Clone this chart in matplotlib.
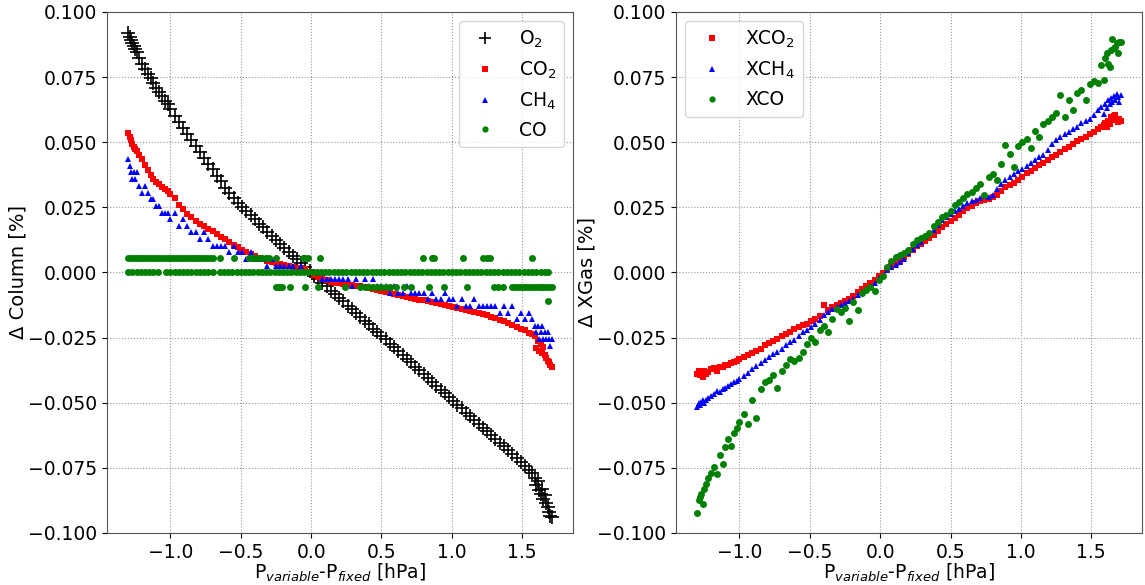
import matplotlib
matplotlib.use("Agg")
import matplotlib.pyplot as plt

# ---------------- data ----------------
# shared pressure-difference axis [hPa]
P_DIFF = [-1.30, -1.29, -1.28, -1.27, -1.26, -1.25, -1.24, -1.22, -1.20, -1.18,
          -1.16, -1.14, -1.12, -1.10, -1.08, -1.06, -1.04, -1.02, -1.00, -0.97,
          -0.94, -0.91, -0.88, -0.85, -0.82, -0.79, -0.76, -0.73, -0.70, -0.67,
          -0.64, -0.61, -0.58, -0.55, -0.52, -0.49, -0.46, -0.43, -0.40, -0.37,
          -0.34, -0.31, -0.28, -0.25, -0.22, -0.19, -0.16, -0.13, -0.10, -0.07,
          -0.04, -0.01, 0.02, 0.05, 0.08, 0.11, 0.14, 0.17, 0.20, 0.23,
          0.26, 0.29, 0.32, 0.35, 0.38, 0.41, 0.44, 0.47, 0.50, 0.53,
          0.56, 0.59, 0.62, 0.65, 0.68, 0.71, 0.74, 0.77, 0.80, 0.83,
          0.86, 0.89, 0.92, 0.95, 0.98, 1.01, 1.04, 1.07, 1.10, 1.13,
          1.16, 1.19, 1.22, 1.25, 1.28, 1.31, 1.34, 1.37, 1.40, 1.43,
          1.46, 1.49, 1.52, 1.55, 1.57, 1.59, 1.60, 1.61, 1.62, 1.63,
          1.64, 1.65, 1.66, 1.67, 1.68, 1.69, 1.70, 1.71]

# left panel: Delta column [%]
O2 = [0.0918, 0.0905, 0.0893, 0.0880, 0.0870, 0.0857, 0.0848, 0.0825, 0.0800, 0.0782,
      0.0762, 0.0745, 0.0726, 0.0710, 0.0692, 0.0677, 0.0660, 0.0645, 0.0628, 0.0602,
      0.0578, 0.0553, 0.0530, 0.0507, 0.0486, 0.0463, 0.0441, 0.0418, 0.0397, 0.0372,
      0.0350, 0.0326, 0.0304, 0.0286, 0.0268, 0.0252, 0.0235, 0.0220, 0.0205, 0.0188,
      0.0173, 0.0157, 0.0141, 0.0125, 0.0110, 0.0095, 0.0080, 0.0065, 0.0050, 0.0035,
      0.0020, 0.0005, -0.0012, -0.0024, -0.0041, -0.0053, -0.0070, -0.0082, -0.0099, -0.0111,
      -0.0128, -0.0141, -0.0156, -0.0169, -0.0186, -0.0198, -0.0215, -0.0228, -0.0245, -0.0257,
      -0.0274, -0.0287, -0.0302, -0.0316, -0.0333, -0.0345, -0.0361, -0.0375, -0.0391, -0.0404,
      -0.0420, -0.0434, -0.0450, -0.0463, -0.0479, -0.0493, -0.0509, -0.0522, -0.0538, -0.0551,
      -0.0567, -0.0581, -0.0596, -0.0609, -0.0625, -0.0638, -0.0653, -0.0667, -0.0682, -0.0696,
      -0.0712, -0.0727, -0.0743, -0.0758, -0.0770, -0.0790, -0.0815, -0.0800, -0.0835, -0.0850,
      -0.0830, -0.0870, -0.0855, -0.0885, -0.0900, -0.0918, -0.0935, -0.0940]

CO2 = [0.0536, 0.0522, 0.0508, 0.0494, 0.0482, 0.0474, 0.0467, 0.0452, 0.0436, 0.0414,
       0.0395, 0.0376, 0.0357, 0.0347, 0.0338, 0.0329, 0.0320, 0.0312, 0.0303, 0.0285,
       0.0260, 0.0242, 0.0226, 0.0212, 0.0198, 0.0187, 0.0177, 0.0167, 0.0158, 0.0148,
       0.0137, 0.0127, 0.0116, 0.0106, 0.0096, 0.0088, 0.0080, 0.0072, 0.0064, 0.0057,
       0.0051, 0.0045, 0.0040, 0.0036, 0.0033, 0.0030, 0.0026, 0.0023, 0.0019, 0.0016,
       0.0012, 0.0003, -0.0008, -0.0016, -0.0023, -0.0029, -0.0035, -0.0039, -0.0042, -0.0045,
       -0.0047, -0.0049, -0.0051, -0.0053, -0.0056, -0.0059, -0.0062, -0.0066, -0.0070, -0.0074,
       -0.0077, -0.0081, -0.0085, -0.0089, -0.0093, -0.0096, -0.0100, -0.0104, -0.0107, -0.0111,
       -0.0114, -0.0118, -0.0122, -0.0126, -0.0130, -0.0134, -0.0138, -0.0141, -0.0145, -0.0148,
       -0.0152, -0.0156, -0.0161, -0.0165, -0.0170, -0.0176, -0.0182, -0.0188, -0.0195, -0.0201,
       -0.0208, -0.0215, -0.0222, -0.0232, -0.0238, -0.0245, -0.0290, -0.0262, -0.0300, -0.0275,
       -0.0310, -0.0285, -0.0315, -0.0330, -0.0338, -0.0345, -0.0355, -0.0364]

CH4 = [0.0435, 0.0410, 0.0384, 0.0358, 0.0384, 0.0358, 0.0384, 0.0333, 0.0307, 0.0333,
       0.0307, 0.0282, 0.0282, 0.0256, 0.0256, 0.0230, 0.0230, 0.0230, 0.0205, 0.0230,
       0.0179, 0.0205, 0.0179, 0.0154, 0.0154, 0.0128, 0.0154, 0.0128, 0.0102, 0.0102,
       0.0102, 0.0102, 0.0077, 0.0102, 0.0077, 0.0077, 0.0051, 0.0077, 0.0051, 0.0051,
       0.0051, 0.0026, 0.0051, 0.0026, 0.0026, 0.0026, 0.0026, 0.0026, 0.0000, 0.0026,
       0.0000, 0.0000, 0.0000, 0.0000, -0.0026, -0.0026, -0.0026, -0.0026, -0.0026, -0.0026,
       -0.0026, -0.0051, -0.0026, -0.0051, -0.0026, -0.0051, -0.0026, -0.0051, -0.0051, -0.0051,
       -0.0077, -0.0051, -0.0077, -0.0077, -0.0051, -0.0077, -0.0077, -0.0077, -0.0077, -0.0102,
       -0.0077, -0.0102, -0.0102, -0.0077, -0.0102, -0.0102, -0.0128, -0.0102, -0.0128, -0.0128,
       -0.0102, -0.0128, -0.0128, -0.0128, -0.0128, -0.0128, -0.0154, -0.0128, -0.0154, -0.0128,
       -0.0179, -0.0154, -0.0179, -0.0154, -0.0179, -0.0205, -0.0230, -0.0205, -0.0256, -0.0230,
       -0.0205, -0.0256, -0.0230, -0.0256, -0.0230, -0.0256, -0.0282, -0.0256]

# CO column: discrete levels and where they occur
CO_HI = 0.0055
CO_ZERO = 0.0
CO_LO = -0.0054
CO_OUT = -0.011
CO_HI_X = [-1.30, -1.28, -1.26, -1.24, -1.22, -1.20, -1.18, -1.16, -1.14, -1.12,
           -1.10, -1.08, -1.06, -1.04, -1.02, -1.00, -0.98, -0.96, -0.94, -0.92,
           -0.90, -0.88, -0.86, -0.84, -0.82, -0.80, -0.78, -0.76, -0.74, -0.72,
           -0.70, -0.65, -0.545, -0.44, -0.42, -0.40, -0.38, -0.35, -0.32, -0.30,
           -0.25, -0.06, -0.04, -0.025, 0.06, 0.795, 0.857, 0.874, 1.08, 1.22,
           1.25, 1.27, 1.57]
CO_ZERO_X = [-1.30, -1.27, -1.24, -1.21, -1.18, -1.15, -1.12, -1.09, -1.03, -1.00,
             -0.97, -0.94, -0.91, -0.88, -0.85, -0.82, -0.79, -0.76, -0.73, -0.70,
             -0.65, -0.62, -0.59, -0.56, -0.53, -0.50, -0.47, -0.44, -0.41, -0.38,
             -0.35, -0.32, -0.29, -0.26, -0.23, -0.20, -0.17, -0.14, -0.11, -0.08,
             -0.05, -0.02, 0.01, 0.04, 0.07, 0.10, 0.13, 0.16, 0.19, 0.22,
             0.25, 0.28, 0.31, 0.34, 0.37, 0.40, 0.43, 0.46, 0.49, 0.52,
             0.55, 0.58, 0.61, 0.64, 0.67, 0.70, 0.73, 0.76, 0.79, 0.82,
             0.85, 0.88, 0.91, 0.94, 0.97, 1.00, 1.03, 1.06, 1.09, 1.12,
             1.15, 1.18, 1.21, 1.24, 1.27, 1.30, 1.33, 1.36, 1.39, 1.42,
             1.45, 1.48, 1.51, 1.54, 1.57, 1.60, 1.63, 1.66, 1.68]
CO_LO_X = [-0.25, -0.23, -0.21, -0.15, -0.04, 0.05, 0.24, 0.35, 0.38, 0.41,
           0.44, 0.47, 0.50, 0.53, 0.56, 0.60, 0.66, 0.71, 0.84, 0.945,
           1.11, 1.30, 1.33, 1.36, 1.43, 1.45, 1.47, 1.49, 1.51, 1.53,
           1.55, 1.57, 1.59, 1.61, 1.63, 1.65, 1.67, 1.69, 1.71]
CO_OUT_X = [1.68]

# right panel: Delta XGas [%]
XCO2 = [-0.0388, -0.0380, -0.0395, -0.0385, -0.0400, -0.0378, -0.0390, -0.0381, -0.0370, -0.0368,
        -0.0380, -0.0364, -0.0362, -0.0357, -0.0354, -0.0349, -0.0344, -0.0339, -0.0333, -0.0326,
        -0.0317, -0.0309, -0.0301, -0.0292, -0.0280, -0.0270, -0.0262, -0.0254, -0.0245, -0.0237,
        -0.0227, -0.0215, -0.0209, -0.0203, -0.0196, -0.0188, -0.0179, -0.0167, -0.0125, -0.0145,
        -0.0134, -0.0126, -0.0118, -0.0110, -0.0102, -0.0090, -0.0073, -0.0062, -0.0051, -0.0039,
        -0.0027, -0.0012, -0.0003, 0.0012, 0.0025, 0.0035, 0.0046, 0.0058, 0.0072, 0.0087,
        0.0100, 0.0110, 0.0121, 0.0131, 0.0145, 0.0160, 0.0174, 0.0186, 0.0199, 0.0211,
        0.0222, 0.0235, 0.0248, 0.0257, 0.0265, 0.0273, 0.0279, 0.0284, 0.0289, 0.0297,
        0.0313, 0.0328, 0.0336, 0.0345, 0.0355, 0.0368, 0.0381, 0.0391, 0.0401, 0.0411,
        0.0421, 0.0432, 0.0443, 0.0452, 0.0463, 0.0473, 0.0482, 0.0492, 0.0503, 0.0513,
        0.0522, 0.0530, 0.0538, 0.0550, 0.0560, 0.0568, 0.0575, 0.0560, 0.0582, 0.0570,
        0.0595, 0.0585, 0.0600, 0.0604, 0.0590, 0.0578, 0.0591, 0.0583]

XCH4 = [-0.0515, -0.0500, -0.0510, -0.0497, -0.0490, -0.0502, -0.0488, -0.0480, -0.0474, -0.0466,
        -0.0455, -0.0460, -0.0448, -0.0443, -0.0436, -0.0427, -0.0422, -0.0416, -0.0410, -0.0398,
        -0.0385, -0.0372, -0.0360, -0.0348, -0.0336, -0.0324, -0.0313, -0.0305, -0.0292, -0.0278,
        -0.0268, -0.0259, -0.0243, -0.0230, -0.0222, -0.0210, -0.0196, -0.0183, -0.0165, -0.0153,
        -0.0142, -0.0134, -0.0125, -0.0117, -0.0109, -0.0101, -0.0085, -0.0073, -0.0063, -0.0052,
        -0.0040, -0.0020, -0.0008, 0.0008, 0.0020, 0.0030, 0.0040, 0.0052, 0.0075, 0.0092,
        0.0106, 0.0118, 0.0136, 0.0150, 0.0165, 0.0183, 0.0200, 0.0212, 0.0225, 0.0236,
        0.0245, 0.0256, 0.0267, 0.0273, 0.0279, 0.0287, 0.0292, 0.0290, 0.0298, 0.0320,
        0.0340, 0.0354, 0.0368, 0.0378, 0.0388, 0.0399, 0.0410, 0.0420, 0.0430, 0.0442,
        0.0452, 0.0470, 0.0495, 0.0508, 0.0520, 0.0530, 0.0540, 0.0552, 0.0560, 0.0572,
        0.0580, 0.0588, 0.0606, 0.0622, 0.0636, 0.0610, 0.0648, 0.0630, 0.0662, 0.0645,
        0.0670, 0.0655, 0.0678, 0.0662, 0.0685, 0.0672, 0.0656, 0.0680]

XCO = [-0.0925, -0.0875, -0.0860, -0.0850, -0.0888, -0.0830, -0.0812, -0.0790, -0.0768, -0.0745,
       -0.0775, -0.0700, -0.0735, -0.0668, -0.0640, -0.0665, -0.0615, -0.0598, -0.0575, -0.0545,
       -0.0582, -0.0490, -0.0560, -0.0448, -0.0420, -0.0413, -0.0395, -0.0445, -0.0380, -0.0355,
       -0.0332, -0.0338, -0.0330, -0.0305, -0.0275, -0.0253, -0.0266, -0.0222, -0.0205, -0.0228,
       -0.0178, -0.0140, -0.0150, -0.0136, -0.0186, -0.0112, -0.0145, -0.0080, -0.0068, -0.0055,
       -0.0070, -0.0030, -0.0015, 0.0020, 0.0045, 0.0059, 0.0066, 0.0075, 0.0085, 0.0110,
       0.0125, 0.0134, 0.0142, 0.0152, 0.0178, 0.0195, 0.0213, 0.0220, 0.0235, 0.0260,
       0.0272, 0.0285, 0.0300, 0.0308, 0.0325, 0.0340, 0.0298, 0.0367, 0.0378, 0.0354,
       0.0418, 0.0488, 0.0456, 0.0405, 0.0485, 0.0500, 0.0512, 0.0476, 0.0545, 0.0520,
       0.0570, 0.0582, 0.0597, 0.0612, 0.0681, 0.0597, 0.0661, 0.0623, 0.0688, 0.0700,
       0.0661, 0.0722, 0.0735, 0.0726, 0.0796, 0.0738, 0.0822, 0.0841, 0.0802, 0.0790,
       0.0854, 0.0895, 0.0862, 0.0867, 0.0880, 0.0841, 0.0886, 0.0885]

Y_TICKS = [-0.100, -0.075, -0.050, -0.025, 0.000, 0.025, 0.050, 0.075, 0.100]

# ---------------- figure ----------------
plt.rcParams['font.family'] = ['DejaVu Sans']
plt.rcParams['font.size'] = 13.5
plt.rcParams['axes.edgecolor'] = '#555555'

fig = plt.figure(figsize=(11.45, 5.85), dpi=100)
ax1 = fig.add_axes([0.0934, 0.0889, 0.4070, 0.8906])
ax2 = fig.add_axes([0.5904, 0.0889, 0.4070, 0.8906])

ms_sq, ms_tri, ms_dot = 4.8, 4.8, 5.0

# left panel
ax1.plot(P_DIFF, O2, linestyle='none', marker='+', color='black', ms=9.5, mew=1.2,
         label='O$_2$')
ax1.plot(P_DIFF, CO2, linestyle='none', marker='s', color='red', ms=ms_sq, mew=0,
         label='CO$_2$')
ax1.plot(P_DIFF, CH4, linestyle='none', marker='^', color='blue', ms=ms_tri, mew=0,
         label='CH$_4$')
co_x = CO_HI_X + CO_ZERO_X + CO_LO_X + CO_OUT_X
co_y = ([CO_HI] * len(CO_HI_X) + [CO_ZERO] * len(CO_ZERO_X)
        + [CO_LO] * len(CO_LO_X) + [CO_OUT] * len(CO_OUT_X))
ax1.plot(co_x, co_y, linestyle='none', marker='o', color='green', ms=ms_dot, mew=0,
         label='CO')

# right panel
ax2.plot(P_DIFF, XCO2, linestyle='none', marker='s', color='red', ms=ms_sq, mew=0,
         label='XCO$_2$')
ax2.plot(P_DIFF, XCH4, linestyle='none', marker='^', color='blue', ms=ms_tri, mew=0,
         label='XCH$_4$')
ax2.plot(P_DIFF, XCO, linestyle='none', marker='o', color='green', ms=ms_dot, mew=0,
         label='XCO')

for ax in (ax1, ax2):
    ax.set_ylim(-0.1, 0.1)
    ax.set_yticks(Y_TICKS)
    ax.set_yticklabels([f"{v:.3f}".replace('-', '\u2212') for v in Y_TICKS])
    ax.grid(True, linestyle=':', linewidth=0.8, color='#999999')
    ax.set_axisbelow(True)
    ax.set_xlabel(r'P$_{variable}$-P$_{fixed}$ [hPa]', labelpad=0, fontsize=13.5)

ax1.set_ylabel('\u0394 Column [%]', labelpad=0.5, fontsize=14)
ax2.set_ylabel('\u0394 XGas [%]', labelpad=0.5, fontsize=14)

ax1.legend(loc='upper right', fontsize=13.5, markerscale=0.9)
ax2.legend(loc='upper left', fontsize=13.5, markerscale=0.9)

fig.savefig('out.png', dpi=100)
